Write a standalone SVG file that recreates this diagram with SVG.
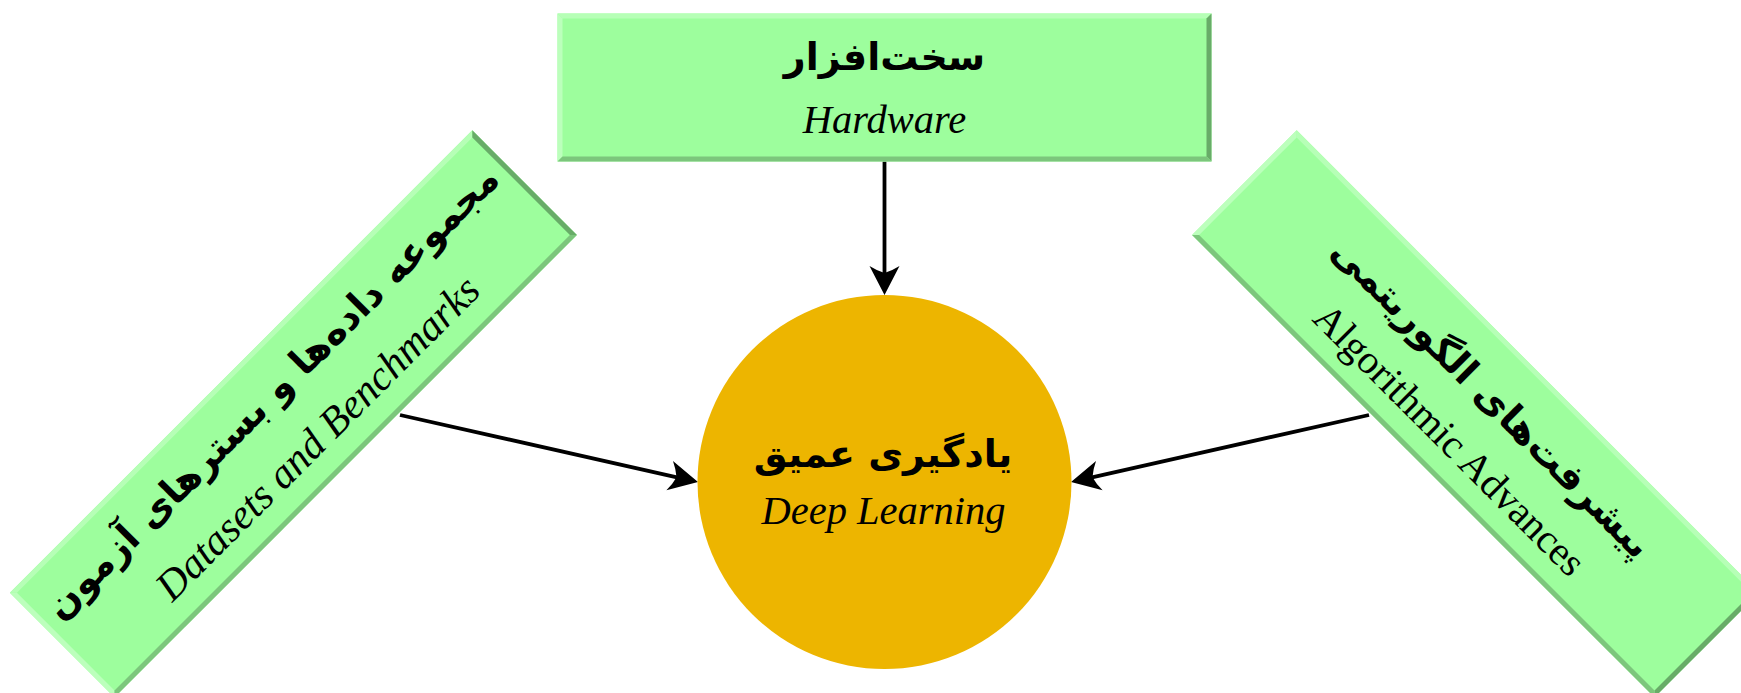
<svg xmlns="http://www.w3.org/2000/svg" xmlns:xlink="http://www.w3.org/1999/xlink" width="1741" height="693" viewBox="0 0 1741 693">
<style>
.fill{fill:#9DFE9D}
.bl1{fill:#B6FFB6}
.bl2{fill:#BCFFBC}
.bd1{fill:#68AC68}
.bd2{fill:#7CC67C}
.fa{font-family:"DejaVu Sans",sans-serif;font-weight:bold;font-size:38px;fill:#000;text-anchor:middle}
.en{font-family:"Liberation Serif","Times New Roman",serif;font-style:italic;font-size:40.5px;fill:#000;text-anchor:middle}
.enr{font-family:"Liberation Serif","Times New Roman",serif;font-size:40.5px;fill:#000;text-anchor:middle}
.conn{stroke:#000;stroke-width:3.8;fill:none}
</style>
<defs>
<g id="box">
<rect class="fill" x="-327" y="-74" width="654" height="148"/>
<polygon class="bl1" points="-327,-74 327,-74 322,-69 -322,-69"/>
<polygon class="bl2" points="-327,-74 -322,-69 -322,69 -327,74"/>
<polygon class="bd1" points="327,-74 327,74 322,69 322,-69"/>
<polygon class="bd2" points="-327,74 327,74 322,69 -322,69"/>
</g>
<marker id="ah" markerUnits="userSpaceOnUse" markerWidth="40" markerHeight="40" refX="0" refY="0" orient="auto" overflow="visible">
<path d="M17,0 L-12,-15 Q-7,-7 -5,0 Q-7,7 -12,15 Z" fill="#000"/>
</marker>
</defs>
<g id="connectors">
<line class="conn" x1="884.5" y1="161.5" x2="884.5" y2="278" marker-end="url(#ah)"/>
<line class="conn" x1="400" y1="415" x2="681.4" y2="478.3" marker-end="url(#ah)"/>
<line class="conn" x1="1369" y1="415" x2="1087.6" y2="478.3" marker-end="url(#ah)"/>
</g>
<g id="node-hardware" transform="translate(884.5,87.5)">
<use xlink:href="#box" href="#box"/>
<text class="fa" x="0" y="-17.5">سخت‌افزار</text>
<text class="en" x="0" y="45.5">Hardware</text>
</g>
<g id="node-datasets" transform="translate(293.4,413.9) rotate(-45)">
<use xlink:href="#box" href="#box"/>
<text class="fa" x="0" y="-17.5">مجموعه داده‌ها و بسترهای آزمون</text>
<text class="en" x="0" y="48" style="font-size:42px">Datasets and Benchmarks</text>
</g>
<g id="node-algorithmic" transform="translate(1475.6,413.9) rotate(45)">
<use xlink:href="#box" href="#box"/>
<text class="fa" x="0" y="-10">پیشرفت‌های الگوریتمی</text>
<text class="enr" x="0" y="50">Algorithmic Advances</text>
</g>
<g id="node-deeplearning">
<circle cx="884.5" cy="482" r="187" fill="#EDB500"/>
<text class="fa" x="883" y="467">یادگیری عمیق</text>
<text class="en" x="883.5" y="524">Deep Learning</text>
</g>
</svg>
